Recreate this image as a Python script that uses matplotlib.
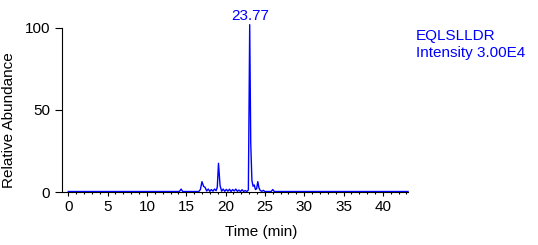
import matplotlib
matplotlib.use("Agg")
import matplotlib.pyplot as plt
from matplotlib.ticker import MultipleLocator

plt.rcParams['font.family'] = ['Liberation Sans', 'DejaVu Sans']

# chromatogram (time in min, relative abundance)
times = [0.0, 13.9, 14.15, 14.35, 14.55, 16.6, 16.8, 17.0, 17.2, 17.4, 17.6,
         17.8, 18.0, 18.2, 18.4, 18.6, 18.8, 18.95, 19.1, 19.3, 19.5, 19.7,
         19.9, 20.1, 20.3, 20.5, 20.7, 20.9, 21.1, 21.3, 21.5, 21.7, 21.9,
         22.1, 22.3, 22.5, 22.7, 22.9, 23.07, 23.2, 23.35, 23.5, 23.65, 23.8,
         23.95, 24.1, 24.25, 24.4, 24.6, 24.8, 25.0, 25.8, 26.0, 26.2, 43.2]
abundance = [0.3, 0.3, 0.4, 1.8, 0.3, 0.3, 1.5, 6.3, 3.5, 2.8, 0.6,
             1.8, 0.4, 1.5, 0.5, 1.8, 0.8, 3.0, 17.5, 4.0, 0.5, 1.8,
             0.4, 1.6, 0.5, 1.7, 0.3, 1.5, 0.6, 1.8, 0.4, 1.2, 0.3,
             1.4, 0.3, 0.9, 0.3, 1.2, 102.0, 30.0, 7.0, 3.5, 4.3, 1.5,
             2.0, 6.3, 2.5, 1.0, 0.4, 1.0, 0.3, 0.3, 1.5, 0.3, 0.3]

peak_label = "23.77"
name = "EQLSLLDR"
intensity = "Intensity 3.00E4"

blue = '#0000ff'
fs = 11

fig = plt.figure(figsize=(5.38, 2.45), dpi=100)
ax = fig.add_axes([0.1152, 0.2163, 0.6432, 0.75])

ax.plot(times, abundance, color=blue, lw=1.0, clip_on=False)

ax.set_xlim(-0.8, 43.2)
ax.set_ylim(0, 112)
ax.spines['top'].set_visible(False)
ax.spines['right'].set_visible(False)
ax.spines['left'].set_bounds(0, 100)
ax.spines['left'].set_linewidth(0.8)
ax.spines['bottom'].set_linewidth(0.8)

ax.xaxis.set_major_locator(MultipleLocator(5))
ax.xaxis.set_minor_locator(MultipleLocator(1))
ax.set_yticks([0, 50, 100])
ax.tick_params(axis='x', which='major', length=3, width=0.8, labelsize=fs, pad=3)
ax.tick_params(axis='x', which='minor', length=1.5, width=0.8)
ax.tick_params(axis='y', length=5, width=0.8, labelsize=fs, pad=3.5)

ax.set_xlabel("Time (min)", fontsize=fs)
ax.set_ylabel("Relative Abundance", fontsize=fs)
ax.xaxis.set_label_coords(0.575, -0.18)
ax.yaxis.set_label_coords(-0.133, 0.39)

# label the apex with the retention time
i_max = abundance.index(max(abundance))
ax.annotate(peak_label, xy=(times[i_max], abundance[i_max]),
            xytext=(0.5, 1.5), textcoords='offset points',
            ha='center', va='bottom', color=blue, fontsize=fs,
            annotation_clip=False)

fig.text(0.773, 0.837, name, color=blue, fontsize=fs, ha='left', va='baseline')
fig.text(0.773, 0.767, intensity, color=blue, fontsize=fs, ha='left', va='baseline')

fig.savefig("out.png", dpi=100)
